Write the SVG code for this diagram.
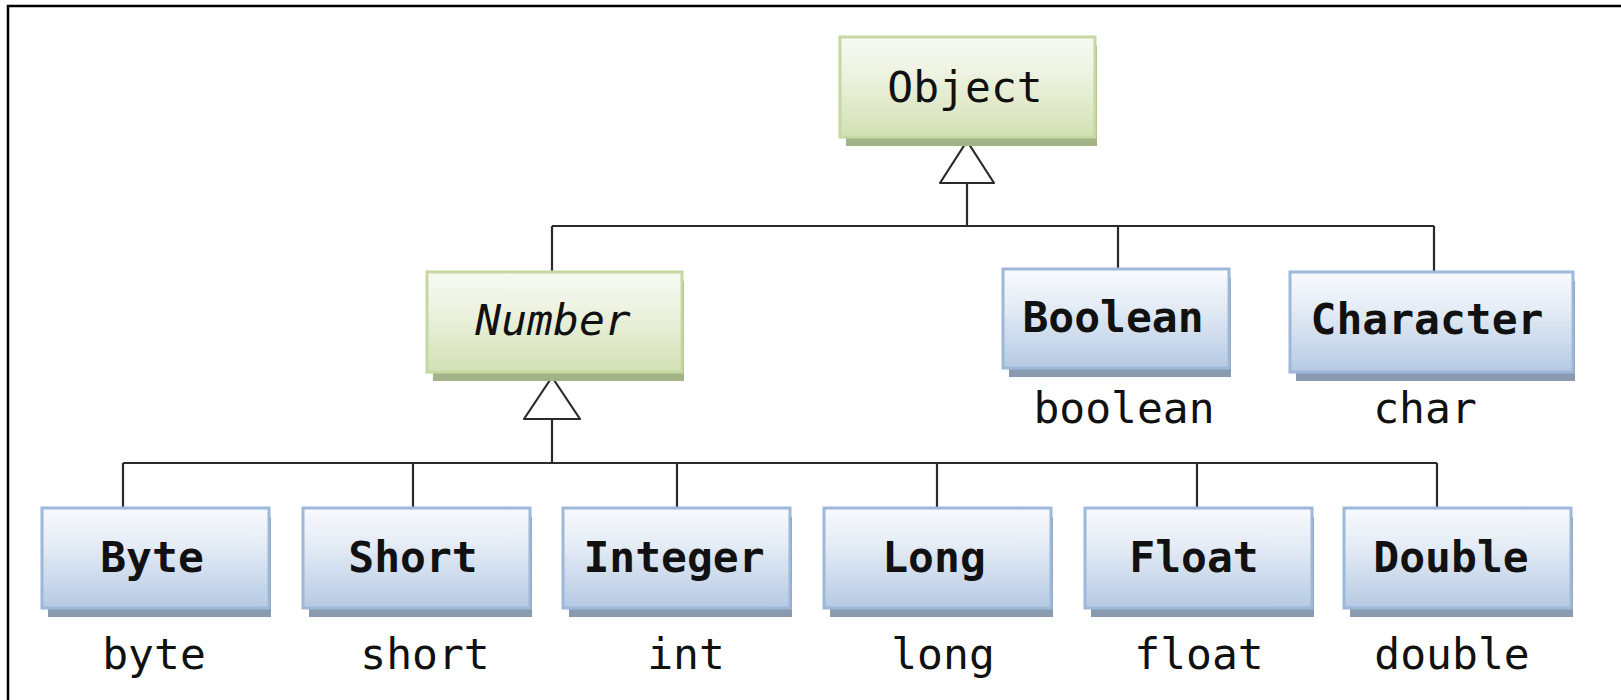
<svg xmlns="http://www.w3.org/2000/svg" width="1621" height="700" viewBox="0 0 1621 700">
  <defs>
    <linearGradient id="gGreen" x1="0" y1="0" x2="0" y2="1">
      <stop offset="0" stop-color="#f8faf3"/>
      <stop offset="0.35" stop-color="#eef3e2"/>
      <stop offset="1" stop-color="#d3e0b4"/>
    </linearGradient>
    <linearGradient id="gBlue" x1="0" y1="0" x2="0" y2="1">
      <stop offset="0" stop-color="#f8fafd"/>
      <stop offset="0.35" stop-color="#e6edf6"/>
      <stop offset="1" stop-color="#b6cae3"/>
    </linearGradient>
  </defs>
  <style>
    .frame { fill: none; stroke: #000; stroke-width: 2.5; }
    .wire { fill: none; stroke: #2a2a2a; stroke-width: 2.2; }
    .tri { fill: #fff; stroke: #2a2a2a; stroke-width: 2.2; stroke-linejoin: round; }
    .shG { fill: #a3b388; }
    .shB { fill: #8a9ab0; }
    .boxG { fill: url(#gGreen); stroke: #c6d8a2; stroke-width: 3; }
    .boxB { fill: url(#gBlue); stroke: #9db8d9; stroke-width: 3; }
    text { font-family: "DejaVu Sans Mono", "Liberation Mono", monospace; font-size: 43px; fill: #111; text-anchor: middle; }
    .cls { font-weight: bold; }
    .abs { font-style: italic; }
  </style>

  <rect class="frame" x="8" y="6" width="1640" height="720"/>

  <!-- inheritance lines -->
  <g id="connectors">
    <path class="wire" d="M967 183 V226 M552 226 H1434 M552 226 V272 M1118 226 V269 M1434 226 V272"/>
    <path class="tri" d="M967 141 L994 183 L940 183 Z"/>
    <path class="wire" d="M552 419 V463 M123 463 H1437 M123 463 V508 M413 463 V508 M677 463 V508 M937 463 V508 M1197 463 V508 M1437 463 V508"/>
    <path class="tri" d="M552 377 L580 419 L524 419 Z"/>
  </g>

  <g id="Object">
    <rect class="shG" x="846" y="46" width="251" height="100"/>
    <rect class="boxG" x="840" y="37" width="255" height="100"/>
    <text x="965" y="102">Object</text>
  </g>

  <g id="Number">
    <rect class="shG" x="433" y="281" width="251" height="100"/>
    <rect class="boxG" x="427" y="272" width="255" height="100"/>
    <text class="abs" x="553" y="335">Number</text>
  </g>

  <g id="Boolean">
    <rect class="shB" x="1009" y="278" width="222" height="99"/>
    <rect class="boxB" x="1003" y="269" width="226" height="99"/>
    <text class="cls" x="1113" y="332">Boolean</text>
    <text x="1124" y="423">boolean</text>
  </g>

  <g id="Character">
    <rect class="shB" x="1296" y="281" width="279" height="100"/>
    <rect class="boxB" x="1290" y="272" width="283" height="100"/>
    <text class="cls" x="1427" y="334">Character</text>
    <text x="1425" y="423">char</text>
  </g>

  <g id="Byte">
    <rect class="shB" x="48" y="517" width="223" height="100"/>
    <rect class="boxB" x="42" y="508" width="227" height="100"/>
    <text class="cls" x="152" y="572">Byte</text>
    <text x="154" y="669">byte</text>
  </g>

  <g id="Short">
    <rect class="shB" x="309" y="517" width="223" height="100"/>
    <rect class="boxB" x="303" y="508" width="227" height="100"/>
    <text class="cls" x="413" y="572">Short</text>
    <text x="425" y="669">short</text>
  </g>

  <g id="Integer">
    <rect class="shB" x="569" y="517" width="223" height="100"/>
    <rect class="boxB" x="563" y="508" width="227" height="100"/>
    <text class="cls" x="674" y="572">Integer</text>
    <text x="686" y="669">int</text>
  </g>

  <g id="Long">
    <rect class="shB" x="830" y="517" width="223" height="100"/>
    <rect class="boxB" x="824" y="508" width="227" height="100"/>
    <text class="cls" x="934" y="572">Long</text>
    <text x="943" y="669">long</text>
  </g>

  <g id="Float">
    <rect class="shB" x="1091" y="517" width="223" height="100"/>
    <rect class="boxB" x="1085" y="508" width="227" height="100"/>
    <text class="cls" x="1194" y="572">Float</text>
    <text x="1199" y="669">float</text>
  </g>

  <g id="Double">
    <rect class="shB" x="1350" y="517" width="223" height="100"/>
    <rect class="boxB" x="1344" y="508" width="227" height="100"/>
    <text class="cls" x="1451" y="572">Double</text>
    <text x="1452" y="669">double</text>
  </g>
</svg>
